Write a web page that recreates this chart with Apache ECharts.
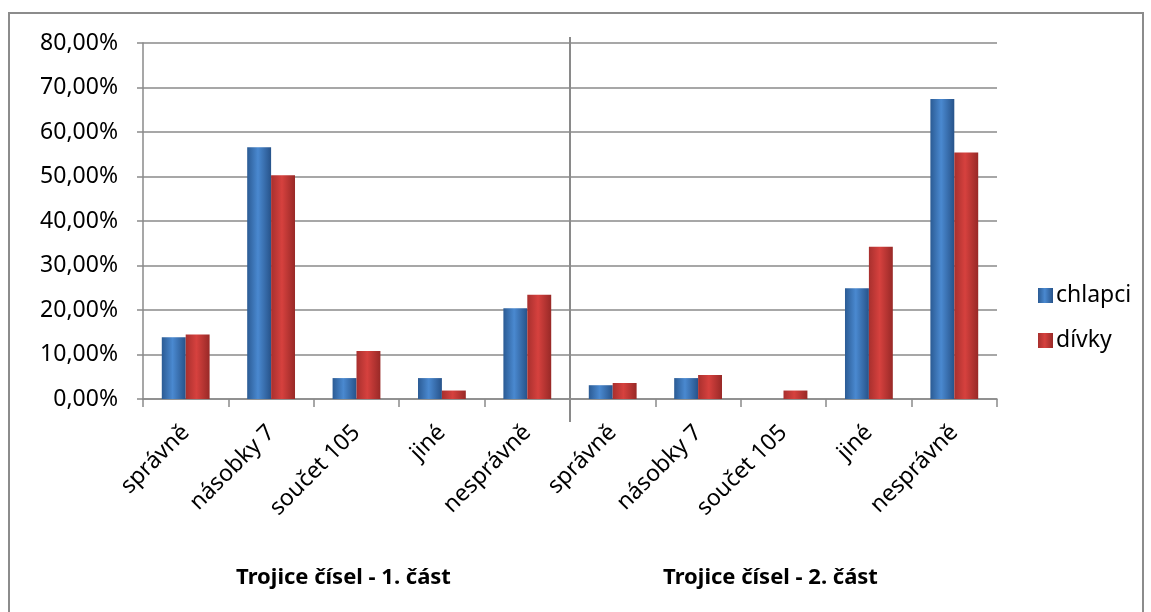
<!DOCTYPE html>
<html><head><meta charset="utf-8">
<script src="https://cdn.jsdelivr.net/npm/echarts@6/dist/echarts.min.js"></script>
<style>
html,body{margin:0;padding:0;background:#fff}
#c{width:1151px;height:612px}
#frame{position:absolute;left:8px;top:12px;width:1132px;height:660px;border:2px solid #8c8c8c;pointer-events:none}
</style>
</head><body><div id="c"></div><div id="frame"></div>
<script>
const answerCats = ['správně', 'násobky 7', 'součet 105', 'jiné', 'nesprávně'];
const groupNames = ['Trojice čísel - 1. část', 'Trojice čísel - 2. část'];
const seriesNames = ['chlapci', 'dívky'];
const chlapci1 = [13.9, 56.6, 4.7, 4.7, 20.4];
const divky1 = [14.5, 50.3, 10.8, 1.9, 23.4];
const chlapci2 = [3.1, 4.7, 0, 24.9, 67.4];
const divky2 = [3.6, 5.4, 1.9, 34.2, 55.4];
const yMin = 0, yMax = 80, yStep = 10;

const categories = answerCats.concat(answerCats);
const chlapci = chlapci1.concat(chlapci2);
const divky = divky1.concat(divky2);
const sepPos = answerCats.length;

const FONT = '"Noto Sans", "DejaVu Sans", sans-serif';
const GRID = '#8a8a8a';

function grad(a, b, c) {
  return new echarts.graphic.LinearGradient(0, 0, 1, 0, [
    {offset: 0, color: a}, {offset: 0.45, color: b}, {offset: 1, color: c}
  ]);
}

const chart = echarts.init(document.getElementById('c'), null, {renderer: 'canvas'});
chart.setOption({
  animation: false,
  textStyle: {fontFamily: FONT},
  grid: {left: 143, right: 154, top: 43, bottom: 213, containLabel: false},
  legend: {
    orient: 'vertical', left: 1033, top: 279,
    itemWidth: 15, itemHeight: 15, itemGap: 22,
    icon: 'rect',
    textStyle: {fontFamily: FONT, fontSize: 23, color: '#000', padding: [0, 0, 0, -2]},
    data: seriesNames
  },
  xAxis: [
    {
      type: 'category', data: categories, position: 'bottom',
      axisLine: {show: true, lineStyle: {color: GRID, width: 1.5}},
      axisTick: {show: true, length: 8, interval: 0, lineStyle: {color: GRID, width: 1.5}},
      axisLabel: {rotate: 45, interval: 0, margin: 30, fontFamily: FONT, fontSize: 23, color: '#000'},
      splitLine: {show: false}
    },
    {
      type: 'category', data: groupNames, position: 'bottom',
      axisLine: {show: false}, axisTick: {show: false},
      axisLabel: {margin: 168, interval: 0, fontFamily: FONT, fontSize: 22, fontWeight: 'bold', color: '#000', padding: [0, 26, 0, 0]},
      splitLine: {show: false}
    }
  ],
  yAxis: {
    type: 'value', min: yMin, max: yMax, interval: yStep,
    axisLine: {show: true, lineStyle: {color: GRID, width: 1.5}},
    axisTick: {show: true, length: 6, lineStyle: {color: GRID, width: 1.5}},
    axisLabel: {
      margin: 25, fontFamily: FONT, fontSize: 23, color: '#000',
      formatter: v => v.toFixed(2).replace('.', ',') + '%'
    },
    splitLine: {show: true, lineStyle: {color: GRID, width: 1.5}}
  },
  series: [
    {
      name: seriesNames[0], type: 'bar', data: chlapci, xAxisIndex: 0,
      barGap: '0%', barCategoryGap: '44%',
      itemStyle: {color: grad('#2b5b94', '#4a89d0', '#27538a')}
    },
    {
      name: seriesNames[1], type: 'bar', data: divky, xAxisIndex: 0,
      barGap: '0%', barCategoryGap: '44%',
      itemStyle: {color: grad('#a8302e', '#d6413e', '#982927')}
    },
    {
      name: 'separator', type: 'custom', xAxisIndex: 0, clip: false, silent: true,
      data: [[sepPos, yMax]],
      renderItem: function (params, api) {
        const a = api.coord([sepPos - 1, yMin]);
        const b = api.coord([sepPos, yMax]);
        const x = (a[0] + b[0]) / 2;
        return {
          type: 'line',
          shape: {x1: x, y1: b[1] - 6, x2: x, y2: a[1] + 23},
          style: {stroke: GRID, lineWidth: 2}
        };
      }
    }
  ]
});
</script>
</body></html>
